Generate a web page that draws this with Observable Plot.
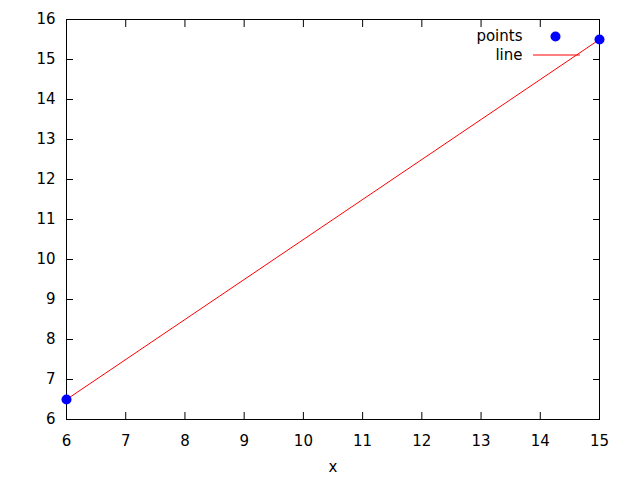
<!DOCTYPE html>
<html>
<head>
<meta charset="utf-8">
<script src="https://cdn.jsdelivr.net/npm/d3@7"></script>
<script src="https://cdn.jsdelivr.net/npm/@observablehq/plot@0.6"></script>
<style>
  html, body { margin: 0; padding: 0; background: #fff; }
  svg { display: block; }
</style>
</head>
<body>
<div id="chart"></div>
<script>
const xs = [6, 15];
const ys = [6.5, 15.5];
const xTicks = [6, 7, 8, 9, 10, 11, 12, 13, 14, 15];
const yTicks = [6, 7, 8, 9, 10, 11, 12, 13, 14, 15, 16];
const legendLabels = ["points", "line"];

const data = xs.map((x, i) => ({x, y: ys[i]}));

const lineShape = {draw(context, l) { context.moveTo(0, 0); context.lineTo(0, -l); }};

const chart = Plot.plot({
  width: 640,
  height: 480,
  marginLeft: 66,
  marginRight: 41,
  marginTop: 19,
  marginBottom: 61,
  style: {fontFamily: "DejaVu Sans", fontSize: "15px", color: "#000", background: "#fff"},
  x: {domain: [6, 15]},
  y: {domain: [6, 16]},
  marks: [
    Plot.axisX({ticks: xTicks, tickSize: -7, tickPadding: 23, label: null, tickFormat: d => String(d), fontSize: 15}),
    Plot.axisX({ticks: xTicks, anchor: "top", tickSize: -7, tickFormat: () => "", label: null}),
    Plot.axisY({ticks: yTicks, tickSize: -7, tickPadding: 18, label: null, tickFormat: d => String(d), fontSize: 15}),
    Plot.axisY({ticks: yTicks, anchor: "right", tickSize: -7, tickFormat: () => "", label: null}),
    Plot.frame({stroke: "#000", strokeWidth: 1}),
    Plot.line(data, {x: "x", y: "y", stroke: "#ff0000", strokeWidth: 1}),
    Plot.dot(data, {x: "x", y: "y", r: 5, fill: "#0000ff", stroke: null}),
    Plot.text(["x"], {frameAnchor: "bottom", lineAnchor: "middle", dy: 48, text: d => d, fontSize: 15}),
    Plot.text([legendLabels[0]], {frameAnchor: "top-right", lineAnchor: "middle", dx: -77, dy: 17, text: d => d, textAnchor: "end", fontSize: 15}),
    Plot.dot([legendLabels[0]], {frameAnchor: "top-right", dx: -44, dy: 17, r: 5, fill: "#0000ff", stroke: null}),
    Plot.text([legendLabels[1]], {frameAnchor: "top-right", lineAnchor: "middle", dx: -77, dy: 36, text: d => d, textAnchor: "end", fontSize: 15}),
    Plot.vector([legendLabels[1]], {frameAnchor: "top-right", dx: -66, dy: 35.5, length: 46, rotate: 90, anchor: "start", shape: lineShape, stroke: "#ff0000", strokeWidth: 1})
  ]
});
document.getElementById("chart").appendChild(chart);
</script>
</body>
</html>
